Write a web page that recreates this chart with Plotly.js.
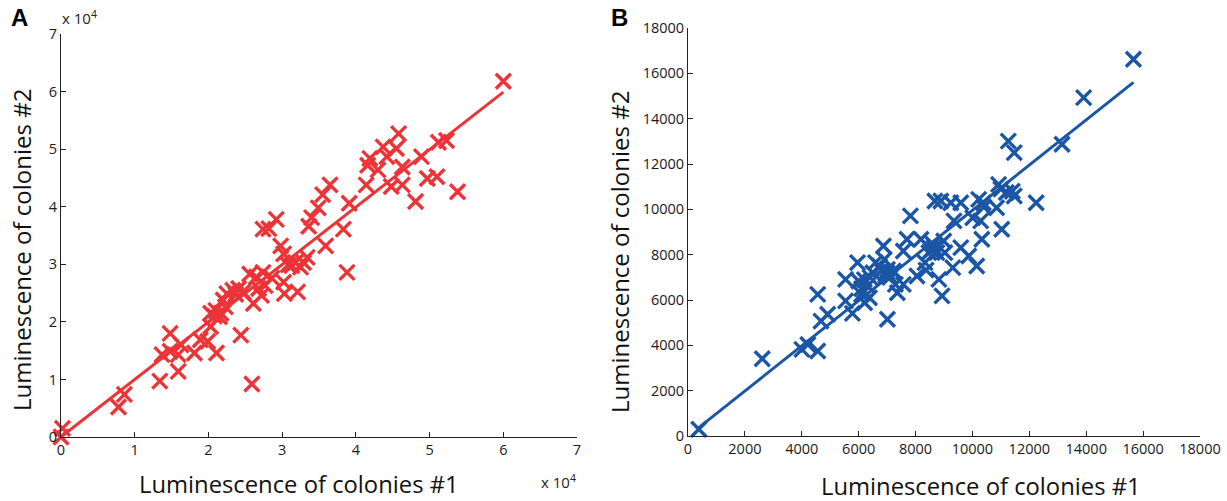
<!DOCTYPE html>
<html>
<head>
<meta charset="utf-8">
<script src="https://cdn.plot.ly/plotly-3.0.1.min.js"></script>
<style>html,body{margin:0;padding:0;background:#fff;}#chart{width:1227px;height:501px;}</style>
</head>
<body>
<div id="chart"></div>
<script>
// Panel A: luminescence values (raw units)
const aX = [0, 200, 7800, 8600, 13400, 13700, 14800, 14800, 15900, 15900, 16300, 18100, 18900, 19900, 21100, 20300, 20300, 21000, 21700, 22300, 22500, 23300, 24100, 24700, 21500, 24400, 25900, 25600, 26100, 26800, 27200, 27700, 27400, 27400, 28200, 29200, 29800, 30200, 30200, 30300, 30800, 31300, 31800, 32900, 33400, 32100, 33600, 34000, 34900, 35500, 36500, 35900, 38300, 38800, 39100, 41400, 41600, 41900, 43000, 43700, 44200, 44800, 45500, 45800, 46300, 46300, 48100, 48900, 49700, 51000, 51200, 52300, 53800, 60000, 22000, 23700, 20800, 26500, 28600, 32500];
const aY = [0, 1500, 5200, 7400, 9700, 14300, 18000, 14900, 11400, 14300, 16000, 14600, 16900, 16600, 14600, 19200, 21500, 22000, 21500, 22600, 24900, 25500, 25800, 25200, 20900, 17700, 9200, 28300, 23200, 25800, 24600, 26300, 28600, 36100, 36200, 37800, 33200, 31800, 26900, 24900, 29900, 29800, 30300, 30300, 31200, 25200, 36600, 38100, 39800, 42100, 43800, 33200, 36100, 28600, 40600, 43800, 47200, 48400, 46400, 50400, 48700, 43500, 50100, 52700, 46900, 43800, 40900, 48700, 44900, 45200, 51200, 51500, 42600, 61800, 23800, 24800, 21000, 27800, 27600, 29500];
const aFitX = [0, 60000];
const aFitY = [0, 59900];

// Panel B
const bX = [380, 2610, 4005, 4215, 4560, 4560, 4675, 4910, 5540, 5540, 5780, 5960, 6000, 6100, 6210, 6310, 6380, 6590, 6730, 6870, 6900, 7010, 7080, 7010, 7220, 7290, 7360, 7570, 7570, 7700, 7820, 8050, 8190, 8330, 8370, 8470, 8610, 8680, 8750, 8820, 8890, 8930, 8990, 9030, 9240, 9310, 9350, 9590, 9590, 9870, 10010, 10150, 10220, 10290, 10330, 10380, 10850, 10920, 11030, 11260, 11470, 11190, 11470, 12240, 13150, 13910, 15660, 6200, 6500, 6800, 7000, 7100, 6950, 8550, 8650, 6100, 6400, 10400, 11000, 11400];
const bY = [300, 3410, 3820, 4040, 3750, 6250, 5070, 5370, 5960, 6910, 5410, 7650, 6840, 6250, 5880, 6620, 6100, 7650, 7500, 8380, 7790, 7350, 7060, 5150, 7280, 6690, 6320, 8160, 6690, 8680, 9710, 7060, 8680, 7650, 7320, 8090, 8460, 10370, 8090, 6910, 10370, 6180, 8600, 8090, 10290, 7430, 9490, 10290, 8310, 7940, 9630, 7500, 10440, 9490, 8680, 10290, 10070, 11100, 9120, 13010, 12500, 10740, 10590, 10290, 12870, 14930, 16620, 6900, 7200, 7300, 7200, 7000, 7100, 8200, 8300, 6500, 7000, 10100, 10900, 10800];
const bFitX = [300, 15660];
const bFitY = [290, 15600];

const aTickVals = [0, 10000, 20000, 30000, 40000, 50000, 60000, 70000];
const aTickText = ['0', '1', '2', '3', '4', '5', '6', '7'];
const bTickVals = [0, 2000, 4000, 6000, 8000, 10000, 12000, 14000, 16000, 18000];
const bTickText = ['0', '2000', '4000', '6000', '8000', '10000', '12000', '14000', '16000', '18000'];

const xTitle = 'Luminescence of colonies #1';
const yTitle = 'Luminescence of colonies #2';

const RED = '#EC3438';
const BLUE = '#1B56A6';
const FONT = 'Open Sans, Noto Sans, sans-serif';
const W = 1227, H = 501;
const px = v => v / W;
const py = v => 1 - v / H;

const markerA = {symbol: 'x-thin-open', size: 15, line: {color: RED, width: 3.4}, color: RED};
const markerB = {symbol: 'x-thin-open', size: 15, line: {color: BLUE, width: 3.4}, color: BLUE};

const traces = [
  {x: aFitX, y: aFitY, mode: 'lines', line: {color: RED, width: 3}, xaxis: 'x', yaxis: 'y', hoverinfo: 'skip', cliponaxis: false},
  {x: aX, y: aY, mode: 'markers', marker: markerA, xaxis: 'x', yaxis: 'y', cliponaxis: false},
  {x: bFitX, y: bFitY, mode: 'lines', line: {color: BLUE, width: 3}, xaxis: 'x2', yaxis: 'y2', hoverinfo: 'skip', cliponaxis: false},
  {x: bX, y: bY, mode: 'markers', marker: markerB, xaxis: 'x2', yaxis: 'y2', cliponaxis: false}
];

const axCommon = {
  showgrid: false, zeroline: false, showline: true, linecolor: '#222', linewidth: 1,
  ticks: 'inside', ticklen: 5, tickwidth: 1, tickcolor: '#222', mirror: false,
  tickfont: {family: FONT, size: 14.5, color: '#1a1a1a'}, fixedrange: true
};

function ann(text, x, y, size, extra) {
  return Object.assign({text: text, x: px(x), y: py(y), xref: 'paper', yref: 'paper', showarrow: false,
    xanchor: 'center', yanchor: 'middle', font: {family: FONT, size: size, color: '#111'}}, extra || {});
}

const layout = {
  width: W, height: H,
  margin: {l: 0, r: 0, t: 0, b: 0},
  paper_bgcolor: '#fff', plot_bgcolor: '#fff',
  showlegend: false,
  xaxis: Object.assign({}, axCommon, {domain: [px(61), px(577)], range: [0, 70000], tickvals: aTickVals, ticktext: aTickText, anchor: 'y'}),
  yaxis: Object.assign({}, axCommon, {domain: [1 - 437 / H, 1 - 34 / H], range: [0, 70000], tickvals: aTickVals, ticktext: aTickText, anchor: 'x'}),
  xaxis2: Object.assign({}, axCommon, {domain: [px(688), px(1200)], range: [0, 18000], tickvals: bTickVals, ticktext: bTickText, anchor: 'y2'}),
  yaxis2: Object.assign({}, axCommon, {domain: [1 - 436 / H, 1 - 28 / H], range: [0, 18000], tickvals: bTickVals, ticktext: bTickText, anchor: 'x2'}),
  annotations: [
    ann('<b>A</b>', 19, 18, 24, {font: {family: 'Liberation Sans, Arial, sans-serif', size: 24, color: '#000'}}),
    ann('<b>B</b>', 619, 18, 24, {font: {family: 'Liberation Sans, Arial, sans-serif', size: 24, color: '#000'}}),
    ann('x 10<sup>4</sup>', 79, 17, 15, {font: {family: FONT, size: 15, color: '#222'}}),
    ann('x 10<sup>4</sup>', 558, 481, 15, {font: {family: FONT, size: 15, color: '#222'}}),
    ann(xTitle, 299, 484, 23.8),
    ann(xTitle, 981, 486, 23.8),
    ann(yTitle, 21, 250, 24, {textangle: -90}),
    ann(yTitle, 620, 252, 24, {textangle: -90})
  ]
};

Plotly.newPlot('chart', traces, layout, {displayModeBar: false, staticPlot: true});
</script>
</body>
</html>
